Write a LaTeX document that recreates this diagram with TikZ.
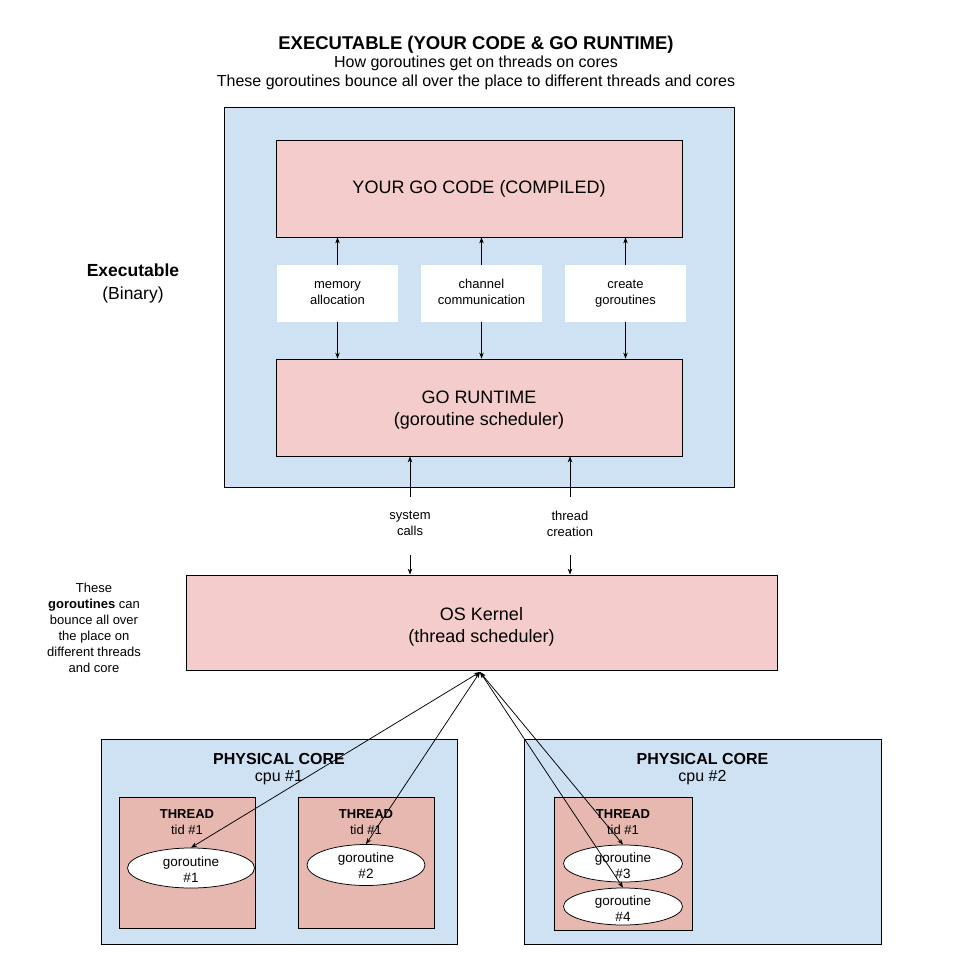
\documentclass[tikz,border=0pt]{standalone}
\usepackage{fontspec}
\setmainfont{Liberation Sans}
\usetikzlibrary{arrows.meta,shapes.geometric}
\definecolor{cblue}{HTML}{CFE2F3}
\definecolor{cpink}{HTML}{F4CCCC}
\definecolor{cthread}{HTML}{E6B8AF}
\begin{document}
\begin{tikzpicture}[x=1pt,y=-1pt,
  box/.style={draw=black, line width=0.75pt, inner sep=0pt, align=center},
  wbox/.style={fill=white, inner sep=0pt, align=center, minimum width=121, minimum height=57, font=\fontsize{13}{16}\selectfont},
  big/.style={font=\fontsize{18}{22}\selectfont, align=center},
  small/.style={font=\fontsize{13}{16}\selectfont, align=center},
  coretitle/.style={font=\fontsize{16}{19}\selectfont\bfseries},
  coresub/.style={font=\fontsize{16}{19}\selectfont},
  thtitle/.style={font=\fontsize{13}{16}\selectfont\bfseries},
  thsub/.style={font=\fontsize{13}{16}\selectfont},
  gor/.style={ellipse, draw=black, line width=0.75pt, fill=white, inner sep=0pt},
  gortxt/.style={align=center, inner sep=0pt, font=\fontsize{13.5}{16}\selectfont},
  arr/.style={-{Stealth[length=6pt,width=4.5pt]}, line width=0.75pt},
  darr/.style={{Stealth[length=6pt,width=4.5pt]}-{Stealth[length=6pt,width=4.5pt]}, line width=0.75pt},
]
\useasboundingbox (0,0) rectangle (953,964);
\fill[white] (0,0) rectangle (953,964);

% title
\node[font=\fontsize{18.5}{22}\selectfont\bfseries] (title) at (476,44.5) {EXECUTABLE (YOUR CODE \& GO RUNTIME)};
\node[font=\fontsize{16}{19}\selectfont, align=center] (sub) at (476,73) {How goroutines get on threads on cores\\These goroutines bounce all over the place to different threads and cores};

% executable box
\node[box, fill=cblue, minimum width=510, minimum height=380] (exe) at (479,297) {};
\node[box, fill=cpink, minimum width=406, minimum height=97, big] (code) at (479,188.5) {YOUR GO CODE (COMPILED)};
\node[box, fill=cpink, minimum width=406, minimum height=97] (runtime) at (479,407.5) {};
\node[big] (runtimetxt) at (479,410.5) {GO RUNTIME\\(goroutine scheduler)};
\node[wbox] (mem) at (337.5,293.5) {\strut memory\\\strut allocation};
\node[wbox] (chan) at (481.5,293.5) {\strut channel\\\strut communication};
\node[wbox] (create) at (625.5,293.5) {\strut create\\\strut goroutines};
\foreach \n in {mem,chan,create}{
  \draw[arr] (\n.north) -- (\n.north |- code.south);
  \draw[arr] (\n.south) -- (\n.south |- runtime.north);
}

\node[font=\fontsize{17.5}{23}\selectfont, align=center] (exelabel) at (133,283) {\textbf{Executable}\\(Binary)};

% kernel
\node[box, fill=cpink, minimum width=591, minimum height=95] (kernel) at (481.5,622.5) {};
\node[big] (kerneltxt) at (481.5,626.5) {OS Kernel\\(thread scheduler)};

\node[small] (syslbl) at (410,523.5) {system\\calls};
\node[small] (thrlbl) at (570,523.5) {thread\\creation};
\coordinate (sysA) at (410,497);
\coordinate (sysB) at (410,555);
\coordinate (thrA) at (570,497);
\coordinate (thrB) at (570,555);
\draw[arr] (sysA) -- (sysA |- runtime.south);
\draw[arr] (sysB) -- (sysB |- kernel.north);
\draw[arr] (thrA) -- (thrA |- runtime.south);
\draw[arr] (thrB) -- (thrB |- kernel.north);

\node[small] (note) at (94,628) {These\\\textbf{goroutines} can\\bounce all over\\the place on\\different threads\\and core};

% cores
\node[box, fill=cblue, minimum width=356, minimum height=205] (core1) at (279,841.5) {};
\node[coretitle] (c1t) at (279,759) {PHYSICAL CORE};
\node[coresub] (c1s) at (279,778) {cpu \#1};
\node[box, fill=cblue, minimum width=357, minimum height=205] (core2) at (702.5,841.5) {};
\node[coretitle] (c2t) at (702.5,759) {PHYSICAL CORE};
\node[coresub] (c2s) at (702.5,778) {cpu \#2};

% threads
\node[box, fill=cthread, minimum width=136, minimum height=131] (t1) at (187,862.5) {};
\node[thtitle] (t1t) at (187,814) {THREAD};
\node[thsub] (t1s) at (187,830) {tid \#1};
\node[box, fill=cthread, minimum width=136, minimum height=131] (t2) at (366,862.5) {};
\node[thtitle] (t2t) at (366,814) {THREAD};
\node[thsub] (t2s) at (366,830) {tid \#1};
\node[box, fill=cthread, minimum width=138, minimum height=133] (t3) at (623,863.5) {};
\node[thtitle] (t3t) at (623,814) {THREAD};
\node[thsub] (t3s) at (623,830) {tid \#1};

% goroutines
\node[gor, minimum width=127, minimum height=40] (g1) at (191,868) {};
\node[gortxt] (g1t) at (191,870) {goroutine\\\#1};
\node[gor, minimum width=118, minimum height=41] (g2) at (366,865) {};
\node[gortxt] (g2t) at (366,866) {goroutine\\\#2};
\node[gor, minimum width=119, minimum height=37] (g3) at (623,863.5) {};
\node[gortxt] (g3t) at (623,865.5) {goroutine\\\#3};
\node[gor, minimum width=119, minimum height=37] (g4) at (623,906.5) {};
\node[gortxt] (g4t) at (623,908.5) {goroutine\\\#4};

% scheduler connectors
\coordinate (hub) at (480,672);
\draw[darr] (hub) -- (g1.north);
\draw[darr] (hub) -- (g2.north);
\draw[darr] (hub) -- (g3.north);
\draw[darr] (hub) -- (g4.north);
\end{tikzpicture}
\end{document}
